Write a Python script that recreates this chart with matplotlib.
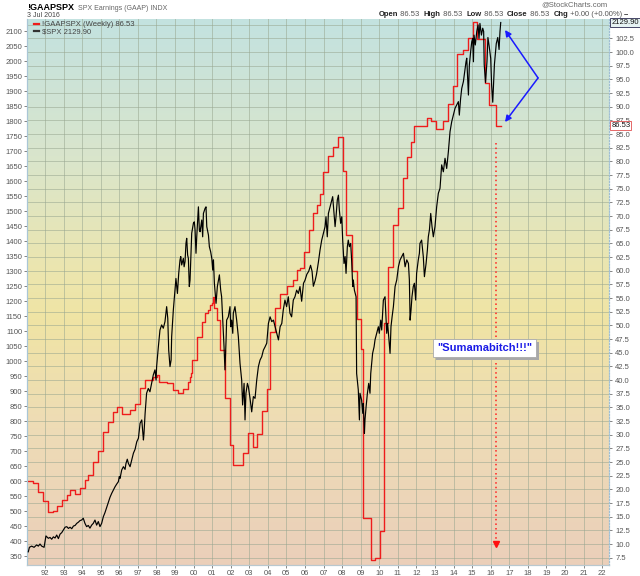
import matplotlib
matplotlib.use("Agg")
import matplotlib.pyplot as plt
import matplotlib.patheffects as pe
import numpy as np
from matplotlib.colors import LinearSegmentedColormap
from matplotlib.lines import Line2D

plt.rcParams['font.family'] = ['Liberation Sans', 'DejaVu Sans']

# S&P 500 weekly closes (decimal year, index)
spx_t = [1991.10, 1991.16, 1991.28, 1991.41, 1991.55, 1991.64, 1991.73, 1991.82, 1991.95,
         1992.00, 1992.05, 1992.18, 1992.27, 1992.36, 1992.45, 1992.54, 1992.63, 1992.72,
         1992.81, 1992.90, 1992.99, 1993.08, 1993.17, 1993.26, 1993.35, 1993.44, 1993.53,
         1993.62, 1993.71, 1993.80, 1993.88, 1993.97, 1994.06, 1994.15, 1994.24, 1994.33,
         1994.42, 1994.51, 1994.60, 1994.69, 1994.78, 1994.87, 1994.96, 1995.05, 1995.14,
         1995.23, 1995.32, 1995.41, 1995.50, 1995.59, 1995.68, 1995.77, 1995.86, 1995.95,
         1996.00, 1996.04, 1996.13, 1996.22, 1996.31, 1996.36, 1996.43, 1996.49, 1996.58,
         1996.67, 1996.76, 1996.85, 1996.94, 1997.03, 1997.12, 1997.21, 1997.30, 1997.33,
         1997.39, 1997.47, 1997.56, 1997.65, 1997.74, 1997.83, 1997.92, 1997.98, 1998.01,
         1998.10, 1998.19, 1998.28, 1998.37, 1998.46, 1998.55, 1998.61, 1998.66, 1998.73,
         1998.79, 1998.82, 1998.91, 1999.00, 1999.05, 1999.13, 1999.20, 1999.27, 1999.31,
         1999.36, 1999.45, 1999.49, 1999.54, 1999.59, 1999.63, 1999.68, 1999.72, 1999.77,
         1999.81, 1999.90, 1999.99, 2000.04, 2000.08, 2000.13, 2000.17, 2000.26, 2000.31,
         2000.35, 2000.44, 2000.49, 2000.53, 2000.62, 2000.67, 2000.71, 2000.80, 2000.85,
         2000.92, 2000.98, 2001.03, 2001.07, 2001.12, 2001.21, 2001.28, 2001.39, 2001.46,
         2001.51, 2001.57, 2001.64, 2001.69, 2001.75, 2001.78, 2001.87, 2001.96, 2002.00,
         2002.05, 2002.11, 2002.14, 2002.23, 2002.32, 2002.41, 2002.50, 2002.59, 2002.64,
         2002.72, 2002.77, 2002.82, 2002.90, 2002.95, 2003.04, 2003.13, 2003.22, 2003.31,
         2003.40, 2003.49, 2003.58, 2003.67, 2003.76, 2003.85, 2003.94, 2004.03, 2004.12,
         2004.21, 2004.30, 2004.39, 2004.48, 2004.57, 2004.66, 2004.75, 2004.83, 2004.92,
         2005.01, 2005.10, 2005.19, 2005.28, 2005.37, 2005.46, 2005.55, 2005.64, 2005.73,
         2005.82, 2005.92, 2006.00, 2006.10, 2006.20, 2006.30, 2006.38, 2006.45, 2006.55,
         2006.62, 2006.72, 2006.81, 2006.90, 2006.99, 2007.08, 2007.13, 2007.20, 2007.26,
         2007.35, 2007.44, 2007.49, 2007.56, 2007.62, 2007.67, 2007.74, 2007.80, 2007.85,
         2007.92, 2007.98, 2008.03, 2008.10, 2008.16, 2008.21, 2008.28, 2008.33, 2008.39,
         2008.46, 2008.51, 2008.57, 2008.60, 2008.66, 2008.75, 2008.78, 2008.87, 2008.93,
         2008.96, 2009.05, 2009.11, 2009.14, 2009.20, 2009.23, 2009.29, 2009.36, 2009.43,
         2009.50, 2009.54, 2009.59, 2009.64, 2009.72, 2009.77, 2009.86, 2009.95, 2010.00,
         2010.08, 2010.13, 2010.22, 2010.31, 2010.36, 2010.40, 2010.45, 2010.52, 2010.58,
         2010.63, 2010.69, 2010.76, 2010.85, 2010.94, 2011.03, 2011.12, 2011.21, 2011.30,
         2011.39, 2011.48, 2011.57, 2011.62, 2011.66, 2011.71, 2011.76, 2011.83, 2011.89,
         2011.96, 2012.01, 2012.10, 2012.16, 2012.19, 2012.28, 2012.37, 2012.43, 2012.52,
         2012.59, 2012.64, 2012.70, 2012.77, 2012.84, 2012.91, 2013.00, 2013.09, 2013.18,
         2013.27, 2013.36, 2013.45, 2013.54, 2013.63, 2013.72, 2013.81, 2013.90, 2013.99,
         2014.08, 2014.17, 2014.26, 2014.31, 2014.38, 2014.44, 2014.53, 2014.62, 2014.67,
         2014.71, 2014.80, 2014.85, 2014.92, 2014.98, 2015.03, 2015.07, 2015.10, 2015.17,
         2015.25, 2015.32, 2015.37, 2015.42, 2015.50, 2015.57, 2015.62, 2015.65, 2015.72,
         2015.80, 2015.85, 2015.92, 2016.00, 2016.05, 2016.11, 2016.20, 2016.30, 2016.38,
         2016.45, 2016.50, 2016.54]
spx_v = [364, 379, 383, 379, 387, 383, 390, 383, 379,
         398, 417, 409, 412, 406, 414, 410, 420, 408,
         423, 428, 437, 446, 448, 442, 446, 441, 450,
         452, 459, 463, 468, 470, 476, 459, 448, 452,
         443, 453, 459, 470, 453, 465, 448, 459, 481,
         495, 512, 528, 546, 559, 570, 581, 590, 598,
         615, 609, 637, 648, 639, 659, 673, 659, 648,
         670, 693, 706, 731, 743, 793, 804, 737, 759,
         826, 893, 909, 898, 926, 954, 971, 937, 982,
         1046, 1104, 1121, 1110, 1132, 1182, 1143, 1037, 982,
         1004, 1082, 1171, 1240, 1276, 1226, 1293, 1338, 1349,
         1321, 1343, 1315, 1332, 1393, 1410, 1354, 1343, 1249,
         1271, 1427, 1460, 1465, 1438, 1360, 1415, 1515, 1438,
         1432, 1471, 1415, 1493, 1510, 1515, 1449, 1421, 1382,
         1365, 1343, 1304, 1338, 1260, 1193, 1249, 1288, 1237,
         1215, 1137, 1048, 971, 1071, 1137, 1148, 1182, 1115,
         1137, 1093, 1160, 1182, 1137, 1082, 993, 937, 854,
         926, 804, 893, 926, 915, 876, 831, 882, 876,
         937, 982, 1004, 1015, 1037, 1048, 1060, 1126, 1148,
         1132, 1137, 1115, 1093, 1071, 1115, 1126, 1171, 1204,
         1182, 1215, 1160, 1148, 1204, 1215, 1237, 1226, 1249,
         1200, 1260, 1270, 1290, 1300, 1320, 1300, 1250, 1270,
         1290, 1330, 1371, 1404, 1427, 1449, 1482, 1415, 1493,
         1515, 1538, 1549, 1493, 1449, 1482, 1538, 1554, 1504,
         1460, 1482, 1404, 1326, 1349, 1293, 1382, 1404, 1382,
         1393, 1338, 1249, 1271, 1237, 1215, 959, 904, 804,
         893, 870, 826, 859, 759, 804, 848, 893, 926,
         893, 959, 993, 1026, 1048, 1071, 1093, 1115, 1093,
         1137, 1104, 1204, 1215, 1148, 1093, 1126, 1071, 1026,
         1115, 1148, 1182, 1249, 1271, 1315, 1338, 1349, 1360,
         1315, 1338, 1326, 1271, 1137, 1171, 1215, 1249, 1260,
         1204, 1293, 1338, 1360, 1393, 1404, 1349, 1282, 1326,
         1371, 1415, 1438, 1493, 1449, 1415, 1449, 1515, 1560,
         1577, 1655, 1632, 1677, 1643, 1699, 1766, 1799, 1821,
         1844, 1855, 1866, 1821, 1877, 1910, 1933, 1977, 1999,
         2011, 1888, 1988, 2033, 2066, 2077, 1999, 2088, 2055,
         2100, 2122, 2077, 2127, 2088, 2111, 2100, 1990, 1930,
         2000, 2080, 2050, 2010, 1920, 1864, 1990, 2060, 2080,
         2040, 2100, 2130]

# S&P 500 GAAP earnings, trailing 12 months (step start, value)
eps_t = [1991.05, 1991.37, 1991.64, 1991.91, 1992.18, 1992.45, 1992.63, 1992.90, 1993.17,
         1993.35, 1993.62, 1993.88, 1994.15, 1994.33, 1994.60, 1994.87, 1995.14, 1995.41,
         1995.68, 1995.86, 1996.13, 1996.58, 1996.85, 1997.12, 1997.39, 1997.83, 1998.01,
         1998.12, 1998.55, 1998.91, 1999.18, 1999.45, 1999.72, 1999.81, 1999.88, 1999.90,
         2000.17, 2000.44, 2000.62, 2000.80, 2000.89, 2000.98, 2001.06, 2001.10, 2001.24,
         2001.42, 2001.69, 2001.96, 2002.14, 2002.68, 2002.95, 2003.22, 2003.40, 2003.67,
         2003.94, 2004.12, 2004.39, 2004.65, 2005.05, 2005.37, 2005.55, 2005.73, 2005.95,
         2006.20, 2006.45, 2006.62, 2006.81, 2006.99, 2007.26, 2007.53, 2007.79, 2008.03,
         2008.21, 2008.52, 2008.79, 2009.02, 2009.14, 2009.55, 2009.77, 2010.04, 2010.26,
         2010.49, 2010.76, 2011.02, 2011.26, 2011.51, 2011.69, 2011.87, 2012.55, 2012.77,
         2013.05, 2013.45, 2013.72, 2013.99, 2014.20, 2014.49, 2014.80, 2015.03, 2015.28,
         2015.69, 2015.93, 2016.27, 2016.54]
eps_v = [21.6, 21.2, 19.5, 17.9, 15.8, 16.1, 17.0, 18.1, 19.0,
         19.8, 19.2, 20.3, 21.7, 22.6, 25.0, 27.1, 30.4, 32.4,
         34.2, 35.0, 33.8, 34.6, 35.7, 38.6, 40.0, 40.5, 41.0,
         39.7, 39.4, 38.1, 37.6, 38.3, 39.7, 40.6, 41.2, 43.7,
         47.9, 50.7, 52.2, 52.8, 53.7, 54.0, 55.2, 53.1, 51.0,
         45.5, 36.7, 28.1, 24.4, 26.6, 30.3, 27.8, 30.2, 34.4,
         38.3, 48.8, 53.1, 55.7, 57.2, 58.3, 60.1, 60.4, 63.5,
         67.5, 70.5, 72.0, 74.0, 78.1, 81.0, 82.7, 84.4, 78.2,
         66.5, 60.0, 51.1, 45.7, 14.8, 7.0, 7.4, 12.4, 50.5,
         60.6, 68.4, 71.4, 76.9, 80.8, 83.5, 86.5, 87.9, 87.3,
         86.0, 87.3, 90.4, 93.8, 99.6, 100.4, 102.5, 105.4, 102.3,
         94.3, 90.3, 86.53, 86.53]

years = list(range(1992, 2023))
year_labels = ["%02d" % (y % 100) for y in years]
spx_ticks = list(range(350, 2101, 50))
eps_ticks = [7.5 + 2.5 * i for i in range(40)]

fig = plt.figure(figsize=(6.4, 5.76), dpi=100)
fig.patch.set_facecolor("white")
ax = fig.add_axes([27 / 640, 11 / 576, 582 / 640, 546 / 576])

# background gradient
cmap = LinearSegmentedColormap.from_list("bg", [
    (0.0, "#c3e2e0"), (0.25, "#d9e5cc"), (0.45, "#ebe6b0"),
    (0.55, "#f0e4a4"), (0.75, "#eedcb6"), (1.0, "#ebcfba")])
grad = np.linspace(0, 1, 256).reshape(-1, 1)
ax.imshow(grad, extent=[0, 1, 0, 1], transform=ax.transAxes, aspect="auto",
          cmap=cmap, zorder=-10, origin="upper")

ax.step(eps_t, eps_v, where="post", color="#ee1c1c", lw=1.0, zorder=3)
ax.set_xlim(1991.03, 2022.37)
ax.set_ylim(6.16, 106.04)
ax.set_xticks(years)
ax.set_xticklabels(year_labels)
ax.set_axisbelow(True)
ax.grid(True, color="#98a690", lw=0.7, alpha=0.55)

ax2 = ax.twinx()
ax2.plot(spx_t, spx_v, color="black", lw=0.85, zorder=4)
ax2.set_ylim(320, 2141.7)
ax2.set_yticks(spx_ticks)
ax2.yaxis.tick_left()

# earnings scale sits on the right
ax.yaxis.tick_right()
ax.set_yticks(eps_ticks)
ax.set_yticklabels(["%.1f" % v for v in eps_ticks])

ax.tick_params(axis="both", labelsize=5.5, colors="#555555", length=2, width=0.5, pad=1.5)
ax.tick_params(axis="y", pad=2.5)
ax2.tick_params(axis="y", labelsize=5.5, colors="#555555", length=2, width=0.5, pad=1.5)

for a in (ax, ax2):
    a.spines["top"].set_visible(False)
    a.spines["left"].set_color("#a9c6d6")
    a.spines["right"].set_color("#9fbfd3")
    a.spines["right"].set_linestyle(":")
    a.spines["bottom"].set_color("#b9c8cf")

# legend
handles = [Line2D([], [], color="#ee1c1c", lw=1.6), Line2D([], [], color="#333333", lw=1.6)]
leg = ax2.legend(handles, ["!GAAPSPX (Weekly) 86.53", r"\$SPX 2129.90"], loc="upper left",
                 bbox_to_anchor=(0.003, 1.006), frameon=False, fontsize=5.5,
                 handlelength=0.7, handletextpad=0.4, labelspacing=0.0, borderpad=0.2)
for t in leg.get_texts():
    t.set_color("#444444")

# last value tags on the right axis
ax2.text(1.004, 2129.9, "2129.90", transform=ax2.get_yaxis_transform(), fontsize=5.5,
         va="center", ha="left", color="#111111", zorder=8,
         bbox=dict(boxstyle="square,pad=0.12", fc="#e6f3f3", ec="#2a2a50", lw=0.6))
ax2.text(1.004, 86.53, "86.53", transform=ax.get_yaxis_transform(), fontsize=5.5,
         va="center", ha="left", color="#111111", zorder=8,
         bbox=dict(boxstyle="square,pad=0.12", fc="white", ec="#e05050", lw=0.6))

# annotations
ax2.plot([2016.29, 2016.29], [1728, 398], ls=(0, (1, 2)), color="#ff2020", lw=1.1, zorder=5)
ax2.plot([2016.29], [390], marker="v", color="#ff1010", ms=5, zorder=5)
for tip in [(2016.77, 2105), (2016.77, 1798)]:
    ax2.annotate("", xy=tip, xytext=(2018.55, 1945),
                 arrowprops=dict(arrowstyle="-|>", color="#1a1aff", lw=1.1,
                                 mutation_scale=9, shrinkA=0, shrinkB=0), zorder=6)

note = ax2.text(2015.69, 1044, '"Sumamabitch!!!"', fontsize=8, fontweight="bold",
                ha="center", va="center", color="#1a1ae6", zorder=7,
                bbox=dict(boxstyle="square,pad=0.35", fc="white", ec="#aaaaaa", lw=0.6))
note.get_bbox_patch().set_path_effects([
    pe.SimplePatchShadow(offset=(2, -2), shadow_rgbFace="#a8a8a8", alpha=1.0), pe.Normal()])

# header
title = fig.text(27 / 640, 1 - 10 / 576, "!GAAPSPX", fontsize=6.5, fontweight="bold",
                 va="baseline")
ax.annotate("  SPX Earnings (GAAP) INDX", xy=(1, 0), xycoords=title, va="bottom",
            fontsize=5, color="#666666", annotation_clip=False)
fig.text(27 / 640, 1 - 15.5 / 576, "3 Jul 2016", fontsize=5, color="#444444", va="center")
fig.text(608 / 640, 1 - 5 / 576, "@StockCharts.com", fontsize=5.5, color="#666666",
         va="center", ha="right")

pieces = [(" 86.53  ", "normal"), ("High", "bold"), (" 86.53  ", "normal"),
          ("Low", "bold"), (" 86.53  ", "normal"), ("Close", "bold"), (" 86.53  ", "normal"),
          ("Chg", "bold"), (" +0.00 (+0.00%) ", "normal"), ("\u2013", "bold")]
last = fig.text(379 / 640, 1 - 18 / 576, "Open", fontsize=5.5, fontweight="bold",
                va="bottom", color="#222222")
for s, w in pieces:
    last = ax.annotate(s, xy=(1, 0), xycoords=last, va="bottom", ha="left", fontsize=5.5,
                       fontweight=w, color="#222222" if w == "bold" else "#555555",
                       annotation_clip=False)

fig.savefig("out.png", dpi=100)
